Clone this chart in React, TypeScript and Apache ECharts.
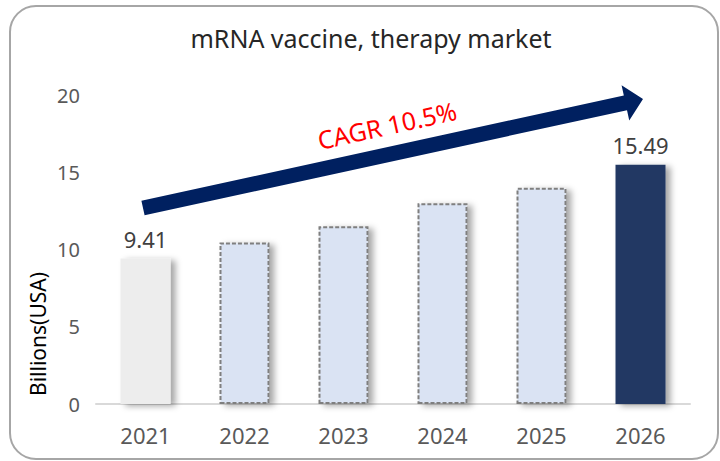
import React, { useEffect, useRef } from "react";
import * as echarts from "echarts";

const title = "mRNA vaccine, therapy market";
const years = ["2021", "2022", "2023", "2024", "2025", "2026"];
const values = [9.41, 10.45, 11.5, 13.0, 14.0, 15.49];
const labelled = [true, false, false, false, false, true];
const yTicks = { min: 0, max: 20, interval: 5 };
const yName = "Billions(USA)";
const cagrText = "CAGR 10.5%";

const FONT = "'Noto Sans', 'Noto Sans CJK KR', sans-serif";

function arrowPoints(sx: number, sy: number, tx: number, ty: number, w: number, h: number, H: number) {
  const dx = tx - sx, dy = ty - sy;
  const L = Math.sqrt(dx * dx + dy * dy);
  const ux = dx / L, uy = dy / L;
  const nx = -uy, ny = ux;
  const bx = tx - h * ux, by = ty - h * uy;
  return [
    [sx + w * nx, sy + w * ny],
    [sx - w * nx, sy - w * ny],
    [bx - w * nx, by - w * ny],
    [bx - H * nx, by - H * ny],
    [tx, ty],
    [bx + H * nx, by + H * ny],
    [bx + w * nx, by + w * ny],
  ];
}

export default function App() {
  const ref = useRef<HTMLDivElement>(null);
  useEffect(() => {
    document.body.style.margin = "0";
    const chart = echarts.init(ref.current!, null, { renderer: "svg" });
    const shadow = {
      shadowColor: "rgba(0,0,0,0.35)",
      shadowBlur: 6,
      shadowOffsetX: 5,
      shadowOffsetY: 2,
    };
    const data = values.map((v, i) => {
      const first = i === 0;
      const last = i === values.length - 1;
      return {
        value: v,
        itemStyle: first
          ? { color: "#ededed", ...shadow }
          : last
          ? { color: "#203864", ...shadow }
          : {
              color: "#dae3f3",
              borderColor: "#7f7f7f",
              borderWidth: 2,
              borderType: [4, 2],
              ...shadow,
            },
        label: {
          show: labelled[i],
          position: "top",
          distance: 9,
          color: "#404040",
          fontSize: 22,
          fontFamily: FONT,
          formatter: (p: any) => p.value.toFixed(2),
        },
      };
    });
    chart.setOption({
      animation: false,
      backgroundColor: "#ffffff",
      title: {
        text: title,
        left: 366,
        top: 20,
        textAlign: "center",
        textStyle: { color: "#262626", fontSize: 25, fontWeight: "normal", fontFamily: FONT },
      },
      grid: { left: 96, right: 30, top: 95, bottom: 57, containLabel: false },
      xAxis: {
        type: "category",
        data: years,
        axisLine: { lineStyle: { color: "#d9d9d9", width: 2 } },
        axisTick: { show: false },
        axisLabel: { color: "#595959", fontSize: 22, fontFamily: FONT, margin: 20 },
      },
      yAxis: {
        type: "value",
        min: yTicks.min,
        max: yTicks.max,
        interval: yTicks.interval,
        splitLine: { show: false },
        axisLine: { show: false },
        axisTick: { show: false },
        axisLabel: { color: "#595959", fontSize: 20, fontFamily: FONT, margin: 16 },
      },
      series: [
        {
          type: "bar",
          data,
          barWidth: 50,
          z: 2,
        },
      ],
      graphic: [
        {
          type: "rect",
          shape: { x: 10, y: 6, width: 708, height: 453, r: 26 },
          style: { fill: "none", stroke: "#a6a6a6", lineWidth: 2 },
          z: 0,
        },
        {
          type: "text",
          x: 38,
          y: 334,
          rotation: Math.PI / 2,
          style: {
            text: yName,
            fill: "#000000",
            fontSize: 21,
            fontFamily: FONT,
            align: "center",
            verticalAlign: "middle",
          },
        },
        {
          type: "polygon",
          shape: { points: arrowPoints(143, 208, 643, 99, 7.5, 18, 18) },
          style: { fill: "#002060" },
          z: 10,
        },
        {
          type: "text",
          x: 387,
          y: 125,
          rotation: (12.5 * Math.PI) / 180,
          style: {
            text: cagrText,
            fill: "#ff0000",
            fontSize: 25,
            fontFamily: FONT,
            align: "center",
            verticalAlign: "middle",
          },
          z: 10,
        },
      ],
    });
    return () => chart.dispose();
  }, []);
  return <div ref={ref} style={{ width: 720, height: 461 }} />;
}
